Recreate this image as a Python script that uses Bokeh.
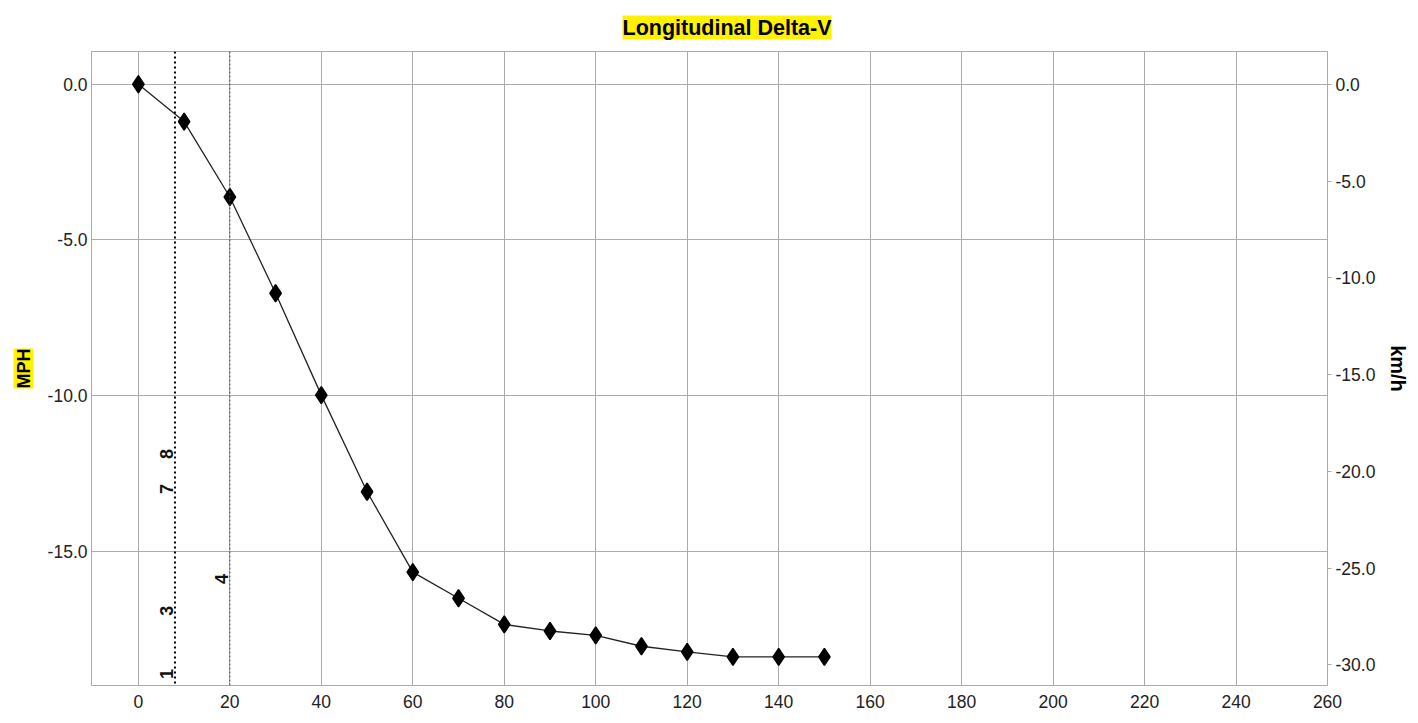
from bokeh.plotting import figure
from bokeh.models import (Range1d, LinearAxis, Title, Span, FixedTicker,
                          NumeralTickFormatter, ColumnDataSource)
from bokeh.core.properties import value
from bokeh.embed import file_html
from bokeh.resources import INLINE
import math

# ---- data ----
time_ms = [0, 10, 20, 30, 40, 50, 60, 70, 80, 90, 100, 110, 120, 130, 140, 150]
delta_v_mph = [0.0, -1.20, -3.62, -6.71, -9.98, -13.08, -15.66, -16.50, -17.34,
               -17.55, -17.69, -18.04, -18.22, -18.38, -18.38, -18.38]

event_line_x = [8, 20]
event_x = [8, 8, 8, 8, 20]
event_labels = ["1", "3", "7", "8", "4"]
event_label_y = [-18.93, -16.90, -12.99, -11.87, -15.88]

x_ticks = [0, 20, 40, 60, 80, 100, 120, 140, 160, 180, 200, 220, 240, 260]
mph_ticks = [0, -5, -10, -15]
kmh_ticks = [0, -5, -10, -15, -20, -25, -30]
MPH_TO_KMH = 1.609344

y_lo, y_hi = -19.3, 1.05

FONT = "Liberation Sans"
GRID = "#ababab"

p = figure(width=1418, height=723, output_backend="svg", toolbar_location=None,
           x_range=Range1d(-10.25, 260), y_range=Range1d(y_lo, y_hi),
           min_border_left=90, min_border_right=89, min_border_top=51,
           min_border_bottom=38, background_fill_color="white",
           border_fill_color="white")

p.title.text = "Longitudinal Delta-V"
p.title.align = "left"
p.title.offset = 531
p.title.text_font = FONT
p.title.text_font_size = "21.5px"
p.title.text_font_style = "bold"
p.title.text_color = "black"
p.title.background_fill_color = "#FFF200"
p.title.standoff = 24

p.outline_line_color = GRID

# axes
p.xaxis.ticker = FixedTicker(ticks=x_ticks)
p.yaxis.ticker = FixedTicker(ticks=mph_ticks)
p.yaxis.formatter = NumeralTickFormatter(format="0.0")
for ax in (p.xaxis[0], p.yaxis[0]):
    ax.major_tick_out = 0
    ax.major_tick_in = 0
    ax.minor_tick_out = 0
    ax.minor_tick_in = 0
    ax.axis_line_color = GRID
    ax.major_label_text_font = FONT
    ax.major_label_text_font_size = "17.5px"
    ax.major_label_text_color = "#222222"
p.xaxis.major_label_standoff = 9
p.yaxis.major_label_standoff = 4

p.extra_y_ranges = {"kmh": Range1d(y_lo * MPH_TO_KMH, y_hi * MPH_TO_KMH)}
rax = LinearAxis(y_range_name="kmh", ticker=FixedTicker(ticks=kmh_ticks),
                 formatter=NumeralTickFormatter(format="0.0"))
rax.major_tick_out = 4
rax.major_tick_in = 0
rax.minor_tick_out = 0
rax.minor_tick_in = 0
rax.major_tick_line_color = GRID
rax.axis_line_color = GRID
rax.major_label_standoff = 4
rax.major_label_text_font = FONT
rax.major_label_text_font_size = "17.5px"
rax.major_label_text_color = "#222222"
p.add_layout(rax, "right")

p.add_layout(Title(text="MPH", align="center", text_font=FONT,
                   text_font_size="18px", text_font_style="bold",
                   text_color="black",
                   background_fill_color="#FFF200", standoff=22), "left")
p.add_layout(Title(text="km/h", align="center", text_font=FONT,
                   text_font_size="20px", text_font_style="bold",
                   text_color="black", standoff=16), "right")

# grid
p.xgrid.ticker = FixedTicker(ticks=x_ticks)
p.ygrid.ticker = FixedTicker(ticks=mph_ticks)
p.xgrid.grid_line_color = GRID
p.ygrid.grid_line_color = GRID
p.xgrid.grid_line_width = 1
p.ygrid.grid_line_width = 1

# event lines
p.add_layout(Span(location=event_line_x[0], dimension="height",
                  line_color="black", line_width=2, line_dash="2 3"))
p.add_layout(Span(location=event_line_x[1], dimension="height",
                  line_color="#444444", line_width=1, line_dash="2 2"))

ev = ColumnDataSource(dict(x=event_x, y=event_label_y, t=event_labels))
p.text(x="x", y="y", text="t", source=ev, angle=math.pi / 2,
       text_align="center", text_baseline="bottom",
       text_font=value(FONT), text_font_size="18px", text_font_style="bold",
       text_color="#111111", x_offset=-2)

# data
src = ColumnDataSource(dict(t=time_ms, v=delta_v_mph))
p.line("t", "v", source=src, line_color="#222222", line_width=1.3)
p.scatter("t", "v", source=src, marker="diamond", size=17, line_width=1.5,
          fill_color="black", line_color="black")

open("out.html", "w").write(file_html(p, INLINE))
